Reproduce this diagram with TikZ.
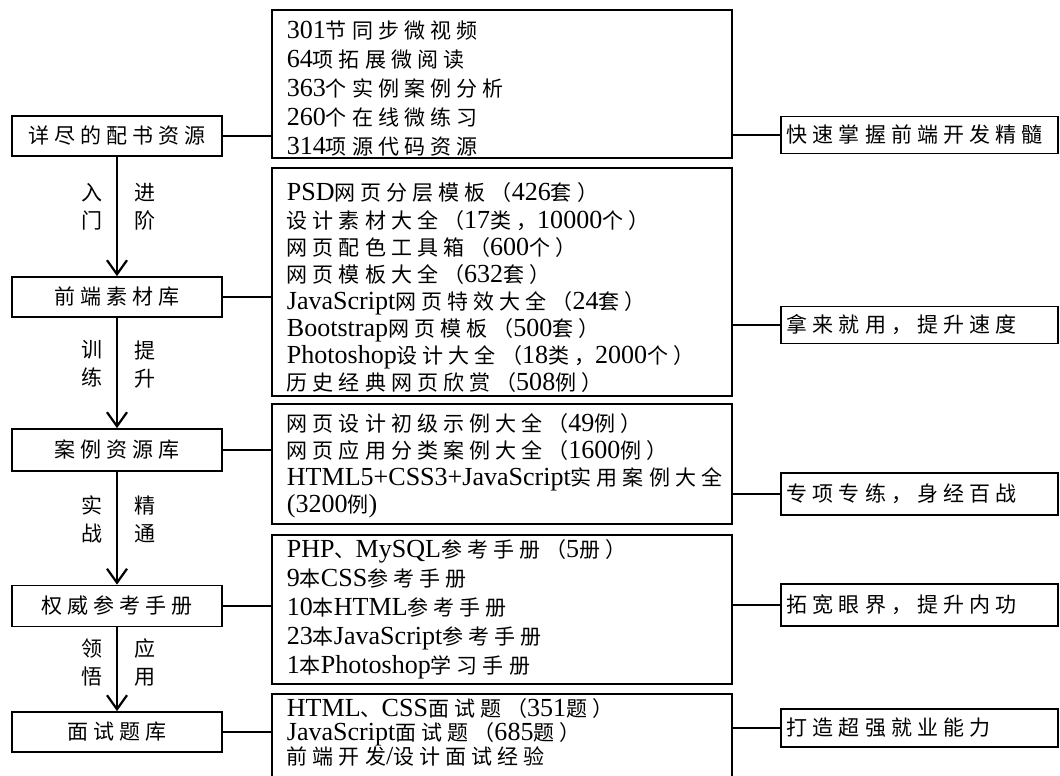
\documentclass[tikz,border=0pt]{standalone}
\usepackage{fontspec}
\setmainfont{Noto Sans CJK SC}[LetterSpace=24]
\newfontfamily\latinfont{Liberation Serif}[Scale=1.24]
\newcommand\la[1]{{\latinfont #1}}
\newcommand\boxfont{\fontsize{21pt}{29pt}\selectfont}
\usetikzlibrary{arrows.meta,positioning}

\begin{document}
\begin{tikzpicture}[x=1pt, y=-1pt,
  every node/.style={inner sep=0pt, font=\boxfont},
  leftbox/.style={draw, line width=1.8pt, minimum width=210pt, minimum height=40pt},
  midbox/.style={draw, line width=1.8pt, anchor=north west, minimum width=460pt, text width=430pt, align=left, inner xsep=15pt, inner ysep=0pt},
  goalbox/.style={draw, line width=1.8pt, anchor=west, minimum width=277pt, text width=265pt, align=left, inner xsep=6pt},
  link/.style={line width=1.8pt},
  flow/.style={line width=2.6pt, -{Straight Barb[length=14pt, width=20pt, line width=2.2pt]}},
  flowlbl/.style={align=center, font={\fontsize{21pt}{28pt}\selectfont}}]
\useasboundingbox[fill=white] (0,0) rectangle (1060,776);

\node[leftbox] (res) at (117,136) {详尽的配书资源};
\node[leftbox] (mat) at (117,297) {前端素材库};
\node[leftbox, minimum height=42pt] (case) at (117,450) {案例资源库};
\node[leftbox, minimum height=41pt] (man) at (117,606) {权威参考手册};
\node[leftbox] (quiz) at (117,732) {面试题库};

\node[midbox, text height=29pt, text depth=119pt] (resl) at (271,9) {\la{301}节同步微视频\\\la{64}项拓展微阅读\\\la{363}个实例案例分析\\\la{260}个在线微练习\\\la{314}项源代码资源};
\node[midbox, text height=33pt, text depth=195pt, font={\fontsize{21pt}{27.1pt}\selectfont}] (matl) at (271,167) {\la{PSD}网页分层模板（\la{426}套）\\设计素材大全（\la{17}类，\la{10000}个）\\网页配色工具箱（\la{600}个）\\网页模板大全（\la{632}套）\\\la{JavaScript}网页特效大全（\la{24}套）\\\la{Bootstrap}网页模板（\la{500}套）\\\la{Photoshop}设计大全（\la{18}类，\la{2000}个）\\历史经典网页欣赏（\la{508}例）};
\node[midbox, text height=28pt, text depth=92pt, font={\fontsize{21pt}{27pt}\selectfont}] (casel) at (271,403) {网页设计初级示例大全（\la{49}例）\\网页应用分类案例大全（\la{1600}例）\\\la{HTML5+CSS3+JavaScript}实用案例大全\\\la{(3200}例\la{)}};
\node[midbox, text height=23pt, text depth=126pt] (manl) at (271,534) {\la{PHP}、\la{MySQL}参考手册（\la{5}册）\\\la{9}本\la{CSS}参考手册\\\la{10}本\la{HTML}参考手册\\\la{23}本\la{JavaScript}参考手册\\\la{1}本\la{Photoshop}学习手册};
\node[midbox, text height=23pt, text depth=100pt, font={\fontsize{21pt}{24pt}\selectfont}] (quizl) at (271,693) {\la{HTML}、\la{CSS}面试题（\la{351}题）\\\la{JavaScript}面试题（\la{685}题）\\前端开发\la{/}设计面试经验};

\node[goalbox, minimum height=37pt] (resg) at (780,135) {快速掌握前端开发精髓};
\node[goalbox, minimum height=37pt] (matg) at (780,325) {拿来就用，提升速度};
\node[goalbox, minimum height=42pt] (caseg) at (780,494) {专项专练，身经百战};
\node[goalbox, minimum height=42pt] (mang) at (780,605) {拓宽眼界，提升内功};
\node[goalbox, minimum height=38pt] (quizg) at (780,728) {打造超强就业能力};

\draw[link] (res) -- (res -| resl.west);
\draw[link] (mat) -- (mat -| matl.west);
\draw[link] (case) -- (case -| casel.west);
\draw[link] (man) -- (man -| manl.west);
\draw[link] (quiz) -- (quiz -| quizl.west);

\draw[link] (resg) -- (resg -| resl.east);
\draw[link] (matg) -- (matg -| matl.east);
\draw[link] (caseg) -- (caseg -| casel.east);
\draw[link] (mang) -- (mang -| manl.east);
\draw[link] (quizg) -- (quizg -| quizl.east);

\draw[flow] (res) -- (mat) node[pos=0.42, left=13pt, flowlbl] {入\\门} node[pos=0.42, right=16pt, flowlbl] {进\\阶};
\draw[flow] (mat) -- (case) node[pos=0.42, left=13pt, flowlbl] {训\\练} node[pos=0.42, right=16pt, flowlbl] {提\\升};
\draw[flow] (case) -- (man) node[pos=0.42, left=13pt, flowlbl] {实\\战} node[pos=0.42, right=16pt, flowlbl] {精\\通};
\draw[flow] (man) -- (quiz) node[pos=0.42, left=13pt, flowlbl] {领\\悟} node[pos=0.42, right=16pt, flowlbl] {应\\用};
\end{tikzpicture}
\end{document}
